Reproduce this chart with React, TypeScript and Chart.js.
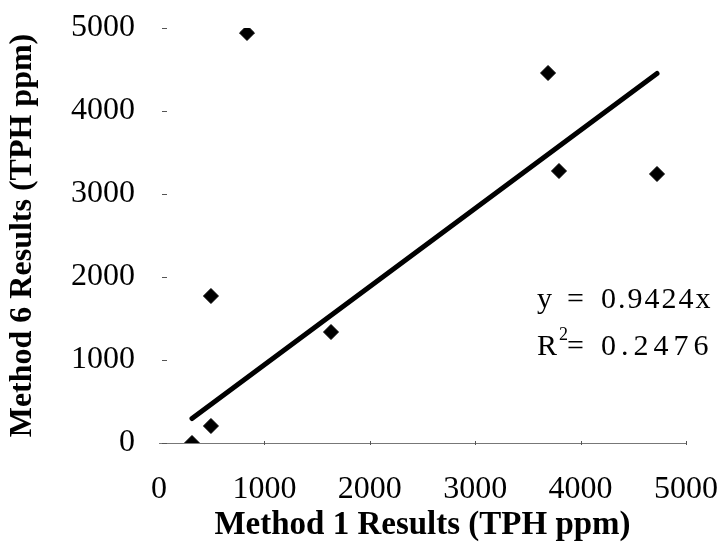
import React, { useEffect, useRef } from "react";
import { Chart, registerables } from "chart.js";

Chart.register(...registerables);

// Method 1 results (x, TPH ppm) and Method 6 results (y, TPH ppm)
const methodOneResults = [313, 493, 493, 835, 1632, 3691, 3795, 4725];
const methodSixResults = [0, 205, 1771, 4940, 1337, 4458, 3277, 3241];
const axisTicks = [0, 1000, 2000, 3000, 4000, 5000];
const trendSlope = 0.9424;
const rSquared = 0.2476;

const SERIF = "'Liberation Serif', 'Times New Roman', serif";

const decorPlugin = {
  id: "decor",
  afterDraw(chart: any) {
    const ctx = chart.ctx;
    const xs = chart.scales.x;
    const ys = chart.scales.y;
    const area = chart.chartArea;
    ctx.save();
    ctx.strokeStyle = "#555";
    ctx.lineWidth = 1;
    axisTicks.forEach((v) => {
      const py = Math.round(ys.getPixelForValue(v)) + 0.5;
      ctx.beginPath();
      ctx.moveTo(area.left + 3, py);
      ctx.lineTo(area.left + 8, py);
      ctx.stroke();
    });
    axisTicks.forEach((v) => {
      if (v === 0) return;
      const px = Math.round(xs.getPixelForValue(v)) + 0.5;
      const py = ys.getPixelForValue(0);
      ctx.beginPath();
      ctx.moveTo(px, py - 2);
      ctx.lineTo(px, py + 2);
      ctx.stroke();
    });
    ctx.fillStyle = "#000";
    ctx.textBaseline = "alphabetic";
    ctx.textAlign = "left";
    const tx = 537;
    const eqX = 567;
    const valX = 601;
    ctx.font = `30px ${SERIF}`;
    (ctx as any).letterSpacing = "0px";
    // line 1
    ctx.fillText("y", tx, 308);
    ctx.fillText("=", eqX, 308);
    (ctx as any).letterSpacing = "2px";
    ctx.fillText(`${trendSlope.toFixed(4)}x`, valX, 308);
    // line 2
    (ctx as any).letterSpacing = "0px";
    ctx.fillText("R", tx, 355);
    const rw = ctx.measureText("R").width;
    ctx.fillText("=", eqX, 355);
    (ctx as any).letterSpacing = "5px";
    ctx.fillText(rSquared.toFixed(4), valX, 355);
    (ctx as any).letterSpacing = "0px";
    ctx.font = `18px ${SERIF}`;
    ctx.fillText("2", tx + rw + 2, 340);
    ctx.restore();
  },
};

const noPad = (scale: any) => {
  scale.paddingTop = 0;
  scale.paddingBottom = 0;
  scale.paddingLeft = 0;
  scale.paddingRight = 0;
};

export default function App() {
  const canvasRef = useRef<HTMLCanvasElement | null>(null);

  useEffect(() => {
    if (!canvasRef.current) return;
    const points = methodOneResults.map((x, i) => ({ x, y: methodSixResults[i] }));
    const xMin = Math.min(...methodOneResults);
    const xMax = Math.max(...methodOneResults);
    const trend = [
      { x: xMin, y: trendSlope * xMin },
      { x: xMax, y: trendSlope * xMax },
    ];

    const chart = new Chart(canvasRef.current, {
      type: "scatter",
      data: {
        datasets: [
          {
            type: "line",
            data: trend,
            borderColor: "#000",
            borderWidth: 5,
            borderCapStyle: "round",
            pointRadius: 0,
            fill: false,
          } as any,
          {
            type: "scatter",
            data: points,
            pointStyle: "rectRot",
            pointRadius: 7.5,
            pointBackgroundColor: "#000",
            pointBorderColor: "#000",
            pointBorderWidth: 1,
          } as any,
        ],
      },
      options: {
        animation: false,
        responsive: false,
        events: [],
        layout: { padding: { left: 0, right: 40, top: 28, bottom: 0 } },
        plugins: {
          legend: { display: false },
          tooltip: { enabled: false },
        },
        scales: {
          x: {
            type: "linear",
            position: "bottom",
            min: 0,
            max: 5000,
            afterBuildTicks: (scale: any) => {
              scale.ticks = axisTicks.map((v) => ({ value: v }));
            },
            afterFit: (scale: any) => {
              scale.height = 103;
              noPad(scale);
            },
            grid: { display: false, drawTicks: false },
            border: { display: true, color: "#777", width: 1, dash: [7, 4] },
            ticks: {
              color: "#000",
              padding: 27,
              font: { family: SERIF, size: 32 },
              maxRotation: 0,
              callback: (v: any) => String(v),
            },
            title: {
              display: true,
              text: "Method 1 Results (TPH ppm)",
              color: "#000",
              font: { family: SERIF, size: 33, weight: "bold" },
              padding: { top: 0, bottom: 1 },
            },
          },
          y: {
            type: "linear",
            min: 0,
            max: 5000,
            afterBuildTicks: (scale: any) => {
              scale.ticks = axisTicks.map((v) => ({ value: v }));
            },
            afterFit: (scale: any) => {
              scale.width = 159;
              noPad(scale);
            },
            grid: { display: false, drawTicks: false },
            border: { display: false },
            ticks: {
              color: "#000",
              padding: 24,
              font: { family: SERIF, size: 32 },
              callback: (v: any) => String(v),
            },
            title: {
              display: true,
              text: "Method 6 Results (TPH ppm)",
              color: "#000",
              font: { family: SERIF, size: 32, weight: "bold" },
              padding: { top: 4, bottom: 0 },
            },
          },
        },
      },
      plugins: [decorPlugin],
    });
    return () => chart.destroy();
  }, []);

  return (
    <div style={{ position: "absolute", left: 0, top: 0, width: 726, height: 546, background: "#fff" }}>
      <canvas ref={canvasRef} width={726} height={546} />
    </div>
  );
}
